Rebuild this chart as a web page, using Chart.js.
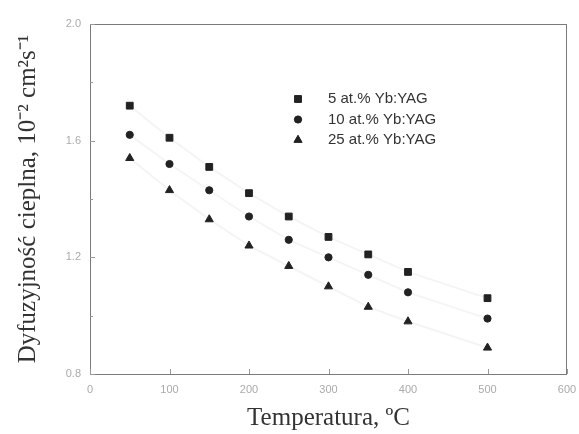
<!DOCTYPE html>
<html>
<head>
<meta charset="utf-8">
<script src="https://cdn.jsdelivr.net/npm/chart.js@4.4.1/dist/chart.umd.min.js"></script>
<style>
html,body{margin:0;padding:0;background:#fff;}
#wrap{width:579px;height:434px;}
</style>
</head>
<body>
<div id="wrap"><canvas id="c" width="579" height="434"></canvas></div>
<script>
const temperatures = [50, 100, 150, 200, 250, 300, 350, 400, 500];
const yb5  = [1.72, 1.61, 1.51, 1.42, 1.34, 1.27, 1.21, 1.15, 1.06];
const yb10 = [1.62, 1.52, 1.43, 1.34, 1.26, 1.20, 1.14, 1.08, 0.99];
const yb25 = [1.54, 1.43, 1.33, 1.24, 1.17, 1.10, 1.03, 0.98, 0.89];
const seriesLabels = ['5 at.% Yb:YAG', '10 at.% Yb:YAG', '25 at.% Yb:YAG'];
const xTickValues = [0, 100, 200, 300, 400, 500, 600];
const yTickLabels = ['0.8', '1.2', '1.6', '2.0'];

const toPts = arr => temperatures.map((t, i) => ({x: t, y: arr[i]}));
const markColor = '#222';
const lineColor = 'rgba(0,0,0,0.045)';

const frame = {
  id: 'frame',
  afterDraw(chart) {
    const {ctx, chartArea: a, scales: {x, y}} = chart;
    ctx.save();
    ctx.strokeStyle = '#7a7a7a';
    ctx.lineWidth = 1;
    ctx.strokeRect(a.left + 0.5, a.top + 0.5, a.right - a.left - 1, a.bottom - a.top);
    ctx.strokeStyle = '#999';
    x.ticks.forEach(t => {
      const px = Math.round(x.getPixelForValue(t.value)) + 0.5;
      ctx.beginPath(); ctx.moveTo(px, a.bottom); ctx.lineTo(px, a.bottom - 5); ctx.stroke();
    });
    y.ticks.forEach(t => {
      const py = Math.round(y.getPixelForValue(t.value)) + 0.5;
      const major = t.label !== '';
      ctx.beginPath(); ctx.moveTo(a.left, py); ctx.lineTo(a.left + (major ? 5 : 3), py); ctx.stroke();
    });
    // legend inside plot
    const lx = 298, ly = 99, dy = 20.5;
    chart.data.datasets.forEach((ds, i) => {
      ctx.fillStyle = markColor;
      ctx.strokeStyle = markColor;
      Chart.helpers.drawPoint(ctx, {pointStyle: ds.pointStyle, radius: ds.pointRadius, borderWidth: 1}, lx, ly + i * dy);
      ctx.fill();
      ctx.fillStyle = '#333';
      ctx.font = '15px "Liberation Sans", Arial, sans-serif';
      ctx.textBaseline = 'middle';
      ctx.textAlign = 'left';
      ctx.fillText(ds.label, 328, ly + i * dy);
    });
    ctx.restore();
  }
};

const mk = (label, data, style, r) => ({
  label, data: toPts(data), pointStyle: style, pointRadius: r, pointHoverRadius: r,
  backgroundColor: markColor, borderColor: lineColor, pointBorderColor: markColor,
  pointBackgroundColor: markColor, borderWidth: 2, pointBorderWidth: 1, showLine: true
});

new Chart(document.getElementById('c'), {
  type: 'scatter',
  data: {
    datasets: [
      mk(seriesLabels[0], yb5, 'rect', 4.8),
      mk(seriesLabels[1], yb10, 'circle', 3.6),
      mk(seriesLabels[2], yb25, 'triangle', 4.7)
    ]
  },
  options: {
    responsive: false,
    animation: false,
    layout: {padding: {top: 24, right: 12, left: 0, bottom: 0}},
    plugins: {legend: {display: false}, tooltip: {enabled: false}},
    scales: {
      x: {
        type: 'linear', min: 0, max: 600,
        afterBuildTicks: s => { s.ticks = xTickValues.map(v => ({value: v})); },
        afterFit: s => { s.height = 60; s.paddingLeft = 0; s.paddingRight = 0; },
        grid: {display: false, drawTicks: false},
        border: {display: false},
        ticks: {padding: 9, color: '#aaa', font: {family: '"Liberation Sans", Arial, sans-serif', size: 11},
                callback: v => String(v)},
        title: {display: true, text: 'Temperatura, ºC', color: '#333',
                font: {family: '"Liberation Serif", "Times New Roman", serif', size: 25},
                padding: {top: 0, bottom: 1}}
      },
      y: {
        type: 'linear', min: 0.8, max: 2.0,
        ticks: {stepSize: 0.2, padding: 9, color: '#aaa', font: {family: '"Liberation Sans", Arial, sans-serif', size: 11},
                callback: v => { const s = v.toFixed(1); return yTickLabels.includes(s) ? s : ''; }},
        afterFit: s => { s.width = 90; s.paddingTop = 0; s.paddingBottom = 0; },
        grid: {display: false, drawTicks: false},
        border: {display: false},
        title: {display: true, text: 'Dyfuzyjność cieplna, 10⁻² cm²s⁻¹', color: '#333',
                font: {family: '"Liberation Serif", "Times New Roman", serif', size: 25},
                padding: {top: 13, bottom: 0}}
      }
    }
  },
  plugins: [frame]
});
</script>
</body>
</html>
